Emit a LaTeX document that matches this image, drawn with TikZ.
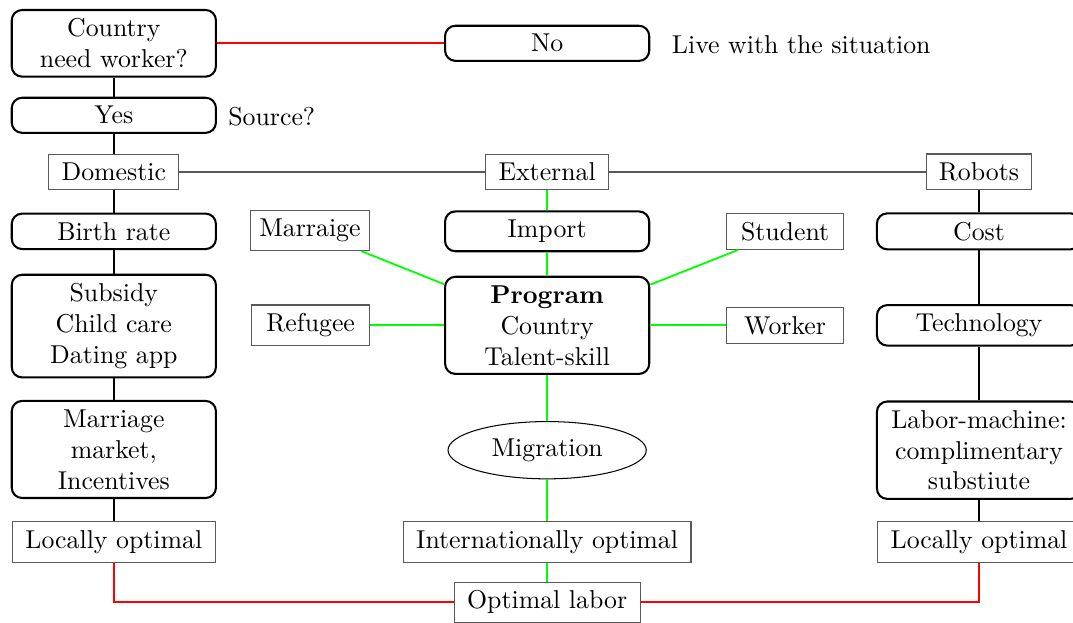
\documentclass[tikz,border=0pt]{standalone}
\usepackage{tikz}
\usetikzlibrary{shapes.geometric}

\begin{document}
\begin{tikzpicture}[
  dec/.style={draw, thick, rounded corners=4pt, minimum width=2.78cm, align=center},
  src/.style={draw=black!65, inner xsep=5pt},
  side/.style={draw=black!65, minimum width=1.6cm},
  mig/.style={draw, ellipse, minimum width=2.7cm, minimum height=0.78cm},
  link/.style={line width=0.7pt}
]
  \useasboundingbox (0,0) rectangle (14.61,-8.47);

  % Question
  \node[dec] (need) at (1.55, -0.59) {Country\\need worker?};
  \node[dec] (no) at (7.45, -0.59) {No};
  \node (live) at (10.91, -0.61) {Live with the situation};
  \node[dec] (yes) at (1.55, -1.57) {Yes};
  \node (source) at (3.70, -1.59) {Source?};

  % Sources
  \node[src] (dom) at (1.55, -2.34) {Domestic};
  \node[src] (ext) at (7.45, -2.34) {External};
  \node[src] (rob) at (13.33, -2.34) {Robots};

  % Domestic column
  \node[dec] (birth) at (1.55, -3.15) {Birth rate};
  \node[dec] (sub) at (1.55, -4.44) {Subsidy\\Child care\\Dating app};
  \node[dec] (mkt) at (1.55, -6.12) {Marriage\\market,\\Incentives};
  \node[src] (loc1) at (1.55, -7.38) {Locally optimal};

  % External column
  \node[dec] (imp) at (7.45, -3.15) {Import};
  \node[dec] (prog) at (7.45, -4.43) {\textbf{Program}\\Country\\Talent-skill};
  \node[mig] (migr) at (7.45, -6.13) {Migration};
  \node[src] (intl) at (7.45, -7.38) {Internationally optimal};
  \node[src] (optl) at (7.45, -8.20) {Optimal labor};

  % Channels
  \node[side] (wed) at (4.22, -3.14) {Marraige};
  \node[side] (ref) at (4.23, -4.43) {Refugee};
  \node[side] (stud) at (10.69, -3.15) {Student};
  \node[side] (work) at (10.69, -4.43) {Worker};

  % Robots column
  \node[dec] (cost) at (13.33, -3.15) {Cost};
  \node[dec] (tech) at (13.33, -4.43) {Technology};
  \node[dec] (lab) at (13.33, -6.13) {Labor-machine:\\complimentary\\substiute};
  \node[src] (loc2) at (13.33, -7.38) {Locally optimal};

  % Links
  \draw[link, red] (need) -- (no);
  \foreach \a/\b in {need/yes, yes/dom, dom/birth, birth/sub, sub/mkt, mkt/loc1} {
    \draw[link] (\a) -- (\b);
  }
  \draw[link, black!65] (dom) -- (ext);
  \draw[link, black!65] (ext) -- (rob);
  \foreach \a/\b in {rob/cost, cost/tech, tech/lab, lab/loc2} {
    \draw[link] (\a) -- (\b);
  }
  \foreach \a/\b in {ext/imp, imp/prog, prog/migr, migr/intl, intl/optl} {
    \draw[link, green] (\a) -- (\b);
  }
  \foreach \s in {wed, ref, stud, work} {
    \draw[link, green] (\s) -- (prog);
  }

  % Merge
  \draw[link, red] (loc1) |- (optl);
  \draw[link, red] (loc2) |- (optl);
\end{tikzpicture}
\end{document}
